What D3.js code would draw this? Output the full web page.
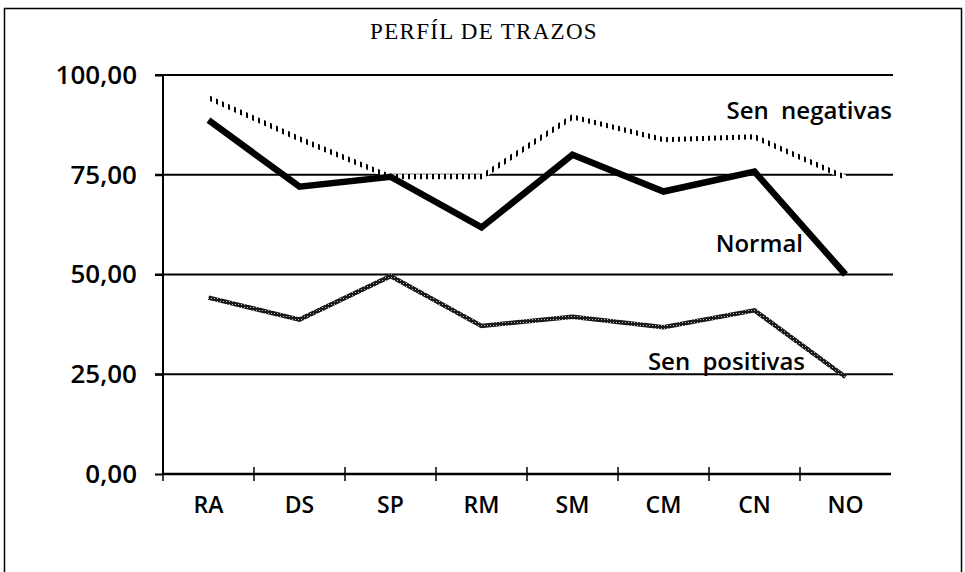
<!DOCTYPE html>
<html>
<head>
<meta charset="utf-8">
<script src="https://cdn.jsdelivr.net/npm/d3@7"></script>
<style>
  body { margin: 0; background: #fff; }
  svg { display: block; }
</style>
</head>
<body>
<div id="chart"></div>
<script>
// categories and series
const categories = ["RA", "DS", "SP", "RM", "SM", "CM", "CN", "NO"];
const normal = [88.7, 72.0, 74.5, 61.8, 80.0, 70.8, 75.8, 50.0];
const senNegativas = [94.3, 84.0, 74.5, 74.5, 89.5, 83.8, 84.5, 74.3];
const senPositivas = [44.2, 38.7, 49.6, 37.1, 39.4, 36.8, 41.0, 24.3];
const yTicks = [0, 25, 50, 75, 100];

const width = 965,
      height = 572;
const sans = "'Open Sans', sans-serif";

const svg = d3.select("#chart")
  .append("svg")
    .attr("width", width)
    .attr("height", height);

// patterns for the two textured lines
const defs = svg.append("defs");
const dots = defs.append("pattern")
    .attr("id", "dots")
    .attr("patternUnits", "userSpaceOnUse")
    .attr("width", 6)
    .attr("height", 6);
dots.append("rect").attr("width", 6).attr("height", 6).attr("fill", "#fff");
dots.append("rect").attr("width", 2).attr("height", 6).attr("fill", "#000");

const check = defs.append("pattern")
    .attr("id", "check")
    .attr("patternUnits", "userSpaceOnUse")
    .attr("width", 3)
    .attr("height", 3);
check.append("rect").attr("width", 3).attr("height", 3).attr("fill", "#1a1a1a");
check.append("rect").attr("x", 1).attr("y", 1).attr("width", 1).attr("height", 1).attr("fill", "#bbb");

// outer frame
svg.append("rect")
    .attr("x", 4.5)
    .attr("y", 8.5)
    .attr("width", 957)
    .attr("height", 620)
    .attr("fill", "none")
    .attr("stroke", "#000")
    .attr("stroke-width", 1.5);

svg.append("text")
    .attr("x", 484)
    .attr("y", 39)
    .attr("text-anchor", "middle")
    .style("font-family", "Liberation Serif, serif")
    .style("font-size", "23px")
    .style("letter-spacing", "1.3px")
    .text("PERFÍL DE TRAZOS");

const x = d3.scaleBand()
    .domain(categories)
    .range([163, 891]);

const y = d3.scaleLinear()
    .domain([0, 100])
    .range([474, 75]);

// horizontal grid lines
svg.append("g")
  .selectAll("line")
  .data(yTicks.filter(d => d > 0))
  .join("line")
    .attr("x1", 155)
    .attr("x2", 893)
    .attr("y1", d => y(d))
    .attr("y2", d => y(d))
    .attr("stroke", "#000")
    .attr("stroke-width", 2);

// y axis
const yAxis = svg.append("g")
    .attr("transform", "translate(163,0)")
    .call(d3.axisLeft(y).tickValues(yTicks).tickSize(8).tickPadding(18)
      .tickFormat(d => d3.format(".2f")(d).replace(".", ",")));
yAxis.select(".domain").attr("stroke-width", 2).attr("d", `M0,${y(100)}V${y(0)}`);
yAxis.selectAll(".tick line").attr("stroke-width", 2);
yAxis.selectAll("text")
    .style("font-family", sans)
    .style("font-size", "26px")
    .style("font-weight", 600)
    .attr("fill", "#000");

// x axis, ticks at category boundaries
const xAxis = svg.append("g")
    .attr("transform", `translate(0,${y(0)})`);
xAxis.append("line")
    .attr("x1", 163)
    .attr("x2", 891)
    .attr("stroke", "#000")
    .attr("stroke-width", 2.5);
xAxis.selectAll(".bt")
  .data(categories)
  .join("line")
    .attr("class", "bt")
    .attr("x1", d => x(d))
    .attr("x2", d => x(d))
    .attr("y1", -7)
    .attr("y2", 7)
    .attr("stroke", "#000")
    .attr("stroke-width", 1.5);
xAxis.selectAll("text")
  .data(categories)
  .join("text")
    .attr("x", d => x(d) + x.bandwidth() / 2)
    .attr("y", 39)
    .attr("text-anchor", "middle")
    .style("font-family", sans)
    .style("font-size", "23px")
    .style("font-weight", 600)
    .text(d => d);

const line = d3.line()
    .x((d, i) => x(categories[i]) + x.bandwidth() / 2)
    .y(d => y(d));

svg.append("path")
    .datum(senPositivas)
    .attr("d", line)
    .attr("fill", "none")
    .attr("stroke", "url(#check)")
    .attr("stroke-width", 4.5);

svg.append("path")
    .datum(senNegativas)
    .attr("d", line)
    .attr("fill", "none")
    .attr("stroke", "url(#dots)")
    .attr("stroke-width", 5);

svg.append("path")
    .datum(normal)
    .attr("d", line)
    .attr("fill", "none")
    .attr("stroke", "#000")
    .attr("stroke-width", 6.5)
    .attr("stroke-linejoin", "miter");

// series labels
const labels = [
  {text: "Sen negativas", x: 892, y: 119},
  {text: "Normal", x: 803, y: 252},
  {text: "Sen positivas", x: 805, y: 370}
];
svg.append("g")
  .selectAll("text")
  .data(labels)
  .join("text")
    .attr("x", d => d.x)
    .attr("y", d => d.y)
    .attr("text-anchor", "end")
    .style("font-family", sans)
    .style("font-size", "24px")
    .style("font-weight", 600)
    .style("word-spacing", "6px")
    .text(d => d.text);
</script>
</body>
</html>
